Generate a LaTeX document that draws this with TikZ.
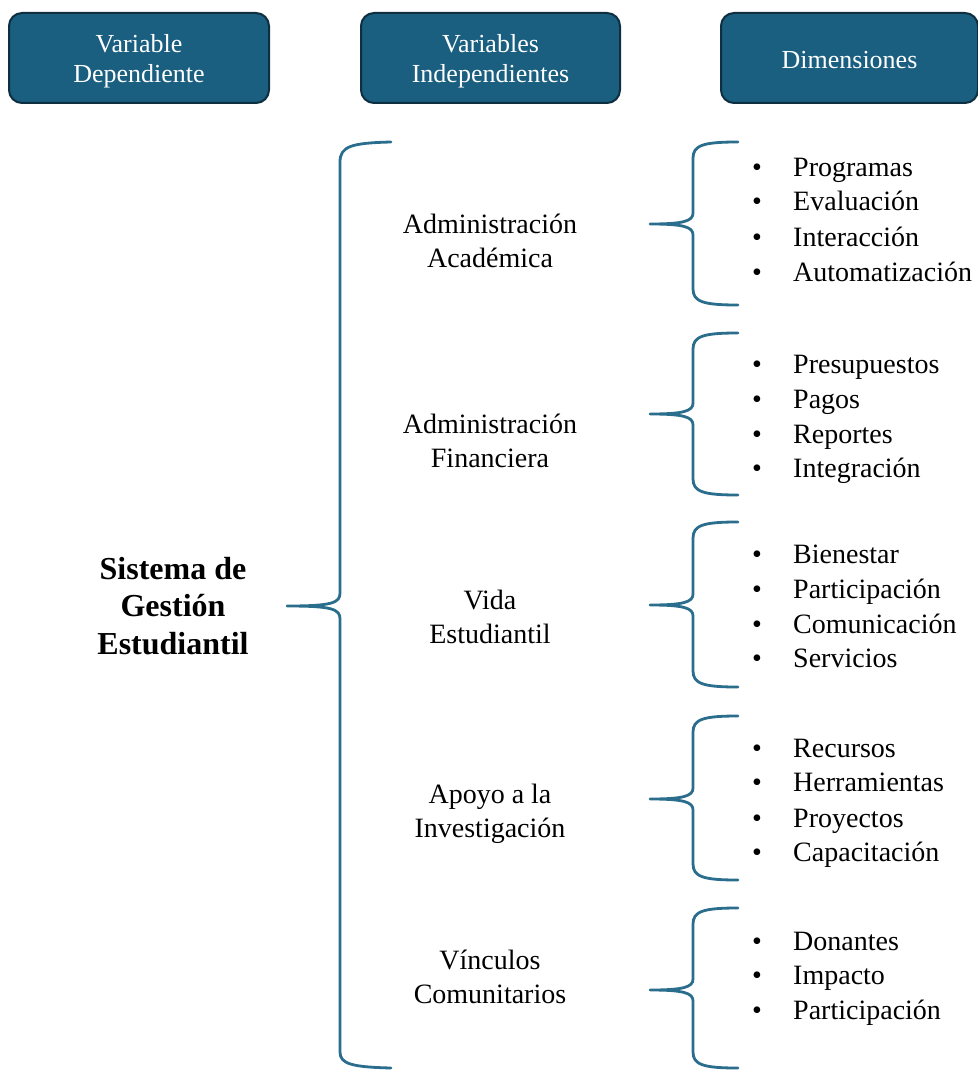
\documentclass[tikz,border=0pt]{standalone}
\usepackage{fontspec}
\setmainfont{Liberation Serif}
\definecolor{hdrfill}{HTML}{1A5E80}
\definecolor{hdredge}{HTML}{0E2F40}
\definecolor{bracecol}{HTML}{2A6D8C}
\begin{document}
\begin{tikzpicture}[x=1pt,y=-1pt,
  hdr/.style={draw=hdredge, line width=2pt, fill=hdrfill, rounded corners=13pt,
    text=white, align=center, inner sep=0pt,
    font=\fontsize{26}{30}\selectfont, minimum height=90pt},
  hdrtxt/.style={text=white, align=center, inner sep=0pt, font=\fontsize{26}{30}\selectfont},
  lbl/.style={align=center, inner sep=0pt, font=\fontsize{28}{34}\selectfont},
  mainlbl/.style={align=center, inner sep=0pt, font=\fontsize{32}{37.5}\selectfont\bfseries},
  item/.style={anchor=base west, inner sep=0pt, font=\fontsize{28}{34}\selectfont},
  bull/.style={anchor=base, inner sep=0pt, font=\fontsize{28}{34}\selectfont},
  brace/.style={draw=bracecol, line width=2.8pt, line cap=round, line join=round}]
\useasboundingbox (0,0) rectangle (977,1070);

% column headers: boxes, then their captions
\node[hdr, minimum width=260pt] (h1) at (139,58) {};
\node[hdr, minimum width=259pt] (h2) at (490.5,58) {};
\node[hdr, minimum width=257pt] (h3) at (849.5,58) {};
\node[hdrtxt] (t1) at (139,61) {Variable\\Dependiente};
\node[hdrtxt] (t2) at (490.5,61) {Variables\\Independientes};
\node[hdrtxt] (t3) at (849.5,60) {Dimensiones};

% dependent variable
\node[mainlbl] (sys) at (173,606) {Sistema de\\Gestión\\Estudiantil};

% independent variables
\node[lbl] (v1) at (490,241) {Administración\\Académica};
\node[lbl] (v2) at (490,441) {Administración\\Financiera};
\node[lbl] (v3) at (490,617) {Vida\\Estudiantil};
\node[lbl] (v4) at (490,814) {Apoyo a la\\Investigación};
\node[lbl] (v5) at (490,977) {Vínculos\\Comunitarios};

% large brace grouping the independent variables
\coordinate (bigtip) at (287,606);
\coordinate (bigtop) at (391,142);
\coordinate (bigbot) at (391,1068);
\draw[brace] (bigtop) .. controls (352,143) and (340,146) .. (340,162)
  -- (340,593) .. controls (340,603) and (332,606) .. (bigtip)
  .. controls (332,606) and (340,609) .. (340,619)
  -- (340,1052) .. controls (340,1064) and (352,1067) .. (bigbot);

% small braces, one per independent variable
\foreach \t/\m/\b [count=\i] in {142/224/305, 333/414/495, 522/605/687, 716/799/880, 908/990/1068} {
  \coordinate (tip\i) at (650,\m);
  \coordinate (top\i) at (738,\t);
  \coordinate (bot\i) at (738,\b);
  \draw[brace] (top\i) .. controls (704,\t) and (693,\t+3) .. (693,\t+16)
    -- (693,\m-11) .. controls (693,\m-3) and (684,\m) .. (tip\i)
    .. controls (684,\m) and (693,\m+3) .. (693,\m+11)
    -- (693,\b-16) .. controls (693,\b-3) and (704,\b) .. (bot\i);
}

% dimensions
\foreach \y/\txt [count=\j] in {176/Programas, 210/Evaluación, 246/Interacción, 281/Automatización,
  373/Presupuestos, 408/Pagos, 443/Reportes, 477/Integración,
  563/Bienestar, 598/Participación, 633/Comunicación, 667/Servicios,
  757/Recursos, 791/Herramientas, 827/Proyectos, 861/Capacitación,
  950/Donantes, 984/Impacto, 1019/Participación} {
  \node[bull] (b\j) at (757,\y) {•};
  \node[item] (d\j) at (793,\y) {\txt};
}
\end{tikzpicture}
\end{document}
